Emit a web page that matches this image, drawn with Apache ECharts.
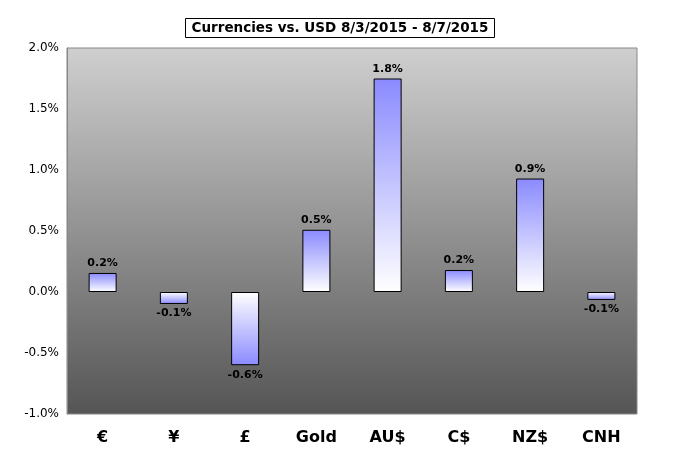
<!DOCTYPE html>
<html><head><meta charset="utf-8">
<script src="https://cdn.jsdelivr.net/npm/echarts@6/dist/echarts.min.js"></script>
<style>html,body{margin:0;padding:0;background:#fff}#c{width:680px;height:470px}</style>
</head><body><div id="c"></div>
<script>
const categories = ['€','¥','£','Gold','AU$','C$','NZ$','CNH'];
const values = [0.156, -0.098, -0.6, 0.51, 1.75, 0.18, 0.93, -0.065];
const yTicks = [-1.0, -0.5, 0.0, 0.5, 1.0, 1.5, 2.0];
const chart = echarts.init(document.getElementById('c'));
function grad(v){
  const blue = '#8a8aff', white = '#ffffff';
  return new echarts.graphic.LinearGradient(0,0,0,1, v>=0
    ? [{offset:0,color:blue},{offset:1,color:white}]
    : [{offset:0,color:white},{offset:1,color:blue}]);
}
chart.setOption({
  animation:false,
  title:{text:'Currencies vs. USD 8/3/2015 - 8/7/2015', left:'center', top:18,
    backgroundColor:'#fff', borderColor:'#000', borderWidth:1, padding:[3,6],
    textStyle:{fontFamily:'DejaVu Sans', fontSize:13.5, fontWeight:'bold', color:'#000'}},
  grid:{left:67, right:43, top:48, bottom:56, show:true,
    backgroundColor:new echarts.graphic.LinearGradient(0,0,0,1,[{offset:0,color:'#cfcfcf'},{offset:1,color:'#555555'}]),
    borderColor:'#888', borderWidth:1},
  xAxis:{type:'category', data:categories, axisLine:{show:false}, axisTick:{show:false},
    axisLabel:{fontFamily:'DejaVu Sans', fontSize:16, fontWeight:'bold', color:'#000', margin:16}},
  yAxis:{type:'value', min:yTicks[0], max:yTicks[yTicks.length-1], interval:0.5,
    splitLine:{show:false}, axisLine:{show:true, lineStyle:{color:'#888'}},
    axisTick:{show:false},
    axisLabel:{fontFamily:'DejaVu Sans', fontSize:12, color:'#000', formatter:v=>v.toFixed(1)+'%'}},
  series:[{type:'bar', barWidth:28,
    data:values.map(v=>({value:v, itemStyle:{color:grad(v)},
      label:{position: v>=0?'top':'bottom'}})),
    itemStyle:{borderColor:'#000', borderWidth:1},
    label:{show:true, fontFamily:'DejaVu Sans', fontSize:11, fontWeight:'bold', color:'#000',
      distance:4, formatter:p=>p.value.toFixed(1)+'%'}}]
});
</script></body></html>
